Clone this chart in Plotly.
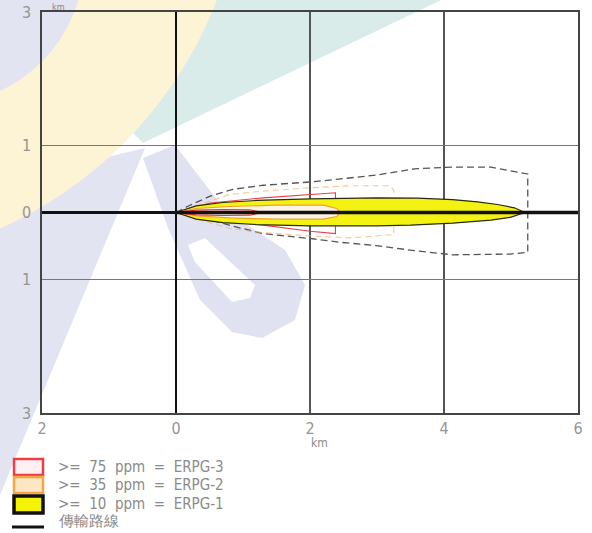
import plotly.graph_objects as go

# ---------------- data (km) ----------------
x_ticks = [-2, 0, 2, 4, 6]
x_ticktext = ["2", "0", "2", "4", "6"]
y_ticks = [-3, -1, 0, 1, 3]
y_ticktext = ["3", "1", "0", "1", "3"]

# plume centre line (downwind axis)
axis_x = [0, 6]
axis_y = [0, 0]

# ERPG-1 footprint (>= 10 ppm), yellow
erpg1_up_x = [0, 0.3, 0.7, 1.2, 2.0, 3.0, 3.6, 4.13, 4.5, 4.8, 5.05, 5.21]
erpg1_up_y = [0, 0.10, 0.15, 0.18, 0.205, 0.22, 0.215, 0.194, 0.16, 0.12, 0.07, 0]
erpg1_lo_x = [5.21, 5.0, 4.7, 4.13, 3.5, 3.0, 2.0, 1.2, 0.7, 0.3, 0]
erpg1_lo_y = [0, -0.07, -0.115, -0.16, -0.19, -0.20, -0.20, -0.18, -0.15, -0.10, 0]

# ERPG-2 footprint (>= 35 ppm), orange
erpg2_up_x = [0, 0.3, 0.8, 1.5, 2.2, 2.4, 2.45]
erpg2_up_y = [0, 0.06, 0.09, 0.11, 0.11, 0.06, 0]
erpg2_lo_x = [2.45, 2.4, 2.2, 1.5, 0.8, 0.3, 0]
erpg2_lo_y = [0, -0.06, -0.10, -0.10, -0.08, -0.05, 0]

# ERPG-3 footprint (>= 75 ppm), red
erpg3_up_x = [0, 0.3, 0.7, 1.1, 1.3]
erpg3_up_y = [0, 0.035, 0.045, 0.04, 0]
erpg3_lo_x = [1.3, 1.1, 0.7, 0.3, 0]
erpg3_lo_y = [0, -0.04, -0.045, -0.035, 0]

# confidence lines
conf1_x = [0, 0.17, 0.51, 0.85, 1.30, 2.04, 2.43, 2.99, 3.56, 4.13, 4.70, 5.09, 5.25,
           5.25, 4.98, 4.13, 3.56, 2.99, 2.43, 2.04, 1.30, 0.85, 0.51, 0.17, 0]
conf1_y = [0, 0.09, 0.245, 0.347, 0.408, 0.459, 0.50, 0.56, 0.653, 0.679, 0.679, 0.612, 0.577,
           -0.597, -0.622, -0.633, -0.571, -0.495, -0.444, -0.393, -0.316, -0.204, -0.112, -0.036, 0]
conf2_x = [0, 0.3, 0.8, 1.3, 2.0, 2.6, 3.2, 3.25, 3.25, 2.6, 2.0, 1.3, 0.8, 0.3, 0]
conf2_y = [0, 0.10, 0.27, 0.32, 0.37, 0.40, 0.40, 0.33, -0.33, -0.38, -0.35, -0.30, -0.24, -0.09, 0]
conf3_x = [0, 0.51, 1.30, 2.0, 2.38, 2.38, 2.0, 1.30, 0.51, 0]
conf3_y = [0, 0.143, 0.219, 0.27, 0.296, -0.316, -0.28, -0.189, -0.112, 0]

legend_labels = [">=  75  ppm  =  ERPG-3", ">=  35  ppm  =  ERPG-2",
                 ">=  10  ppm  =  ERPG-1", "傳輸路線"]

# ---------------- figure ----------------
W, H = 592, 533
L, R, T, B = 42, 14, 12, 120
PW, PH = W - L - R, H - T - B
FONT = "Liberation Sans Narrow, DejaVu Sans Condensed, Roboto Condensed, Liberation Sans, sans-serif"


def px(x):
    return (x - L) / PW


def py(y):
    return (H - B - y) / PH


fig = go.Figure()

fig.add_trace(go.Scatter(x=conf1_x, y=conf1_y, mode="lines",
                         line=dict(color="#555555", width=1.3, dash="7px,4px"),
                         showlegend=False, hoverinfo="skip"))
fig.add_trace(go.Scatter(x=conf2_x, y=conf2_y, mode="lines", opacity=0.7,
                         line=dict(color="#f5b070", width=1.1, dash="6px,4px"),
                         showlegend=False, hoverinfo="skip"))
fig.add_trace(go.Scatter(x=conf3_x, y=conf3_y, mode="lines",
                         line=dict(color="#e8404a", width=1.1),
                         showlegend=False, hoverinfo="skip"))
fig.add_trace(go.Scatter(x=erpg1_up_x + erpg1_lo_x, y=erpg1_up_y + erpg1_lo_y,
                         fill="toself", fillcolor="#f3f213", mode="lines",
                         line=dict(color="#2a2a10", width=1.2), showlegend=False))
fig.add_trace(go.Scatter(x=erpg2_up_x + erpg2_lo_x, y=erpg2_up_y + erpg2_lo_y,
                         fill="toself", fillcolor="#fff3e6", mode="lines",
                         line=dict(color="#f0a030", width=1.2), showlegend=False))
fig.add_trace(go.Scatter(x=erpg3_up_x + erpg3_lo_x, y=erpg3_up_y + erpg3_lo_y,
                         fill="toself", fillcolor="#fdecec", mode="lines",
                         line=dict(color="#ee3333", width=1.1), showlegend=False))
fig.add_trace(go.Scatter(x=axis_x, y=axis_y, mode="lines",
                         line=dict(color="#111111", width=3.5), showlegend=False))

shapes = []


# ---- faint watermark in the background ----
def poly(pts, color):
    d = "M " + " L ".join(f"{px(a):.4f},{py(b):.4f}" for a, b in pts) + " Z"
    return dict(type="path", path=d, xref="paper", yref="paper", layer="below",
                fillcolor=color, line=dict(width=0))


def circ(cx, cy, r, color):
    return dict(type="circle", xref="paper", yref="paper", layer="below",
                x0=px(cx - r), x1=px(cx + r), y0=py(cy + r), y1=py(cy - r),
                fillcolor=color, line=dict(width=0))


shapes.append(poly([(-10, 185), (145, 148), (0, 495), (-10, 495)], "#e2e4f2"))
shapes.append(poly([(150, -10), (462, -10), (143, 143), (60, 60)], "#d9ecea"))
shapes.append(circ(-170, -150, 415, "#fdf3d5"))
shapes.append(circ(-60, -40, 144, "#e2e4f2"))
shapes.append(poly([(143, 158), (175, 145), (225, 210), (285, 250), (305, 285), (295, 320),
                    (262, 338), (232, 332), (200, 300), (168, 228)], "#e0e2f1"))
shapes.append(poly([(188, 245), (205, 238), (255, 285), (250, 298), (232, 302), (195, 262)],
                   "#ffffff"))

# ---- legend swatches ----
sw = [("#f03c46", "#fff0f3", 459, 475, 2.5),
      ("#f5a742", "#fde6c6", 477, 493, 2.5),
      ("#111111", "#f4f400", 496, 513, 3.5)]
for lc, fc, y0, y1, lw in sw:
    shapes.append(dict(type="rect", xref="paper", yref="paper",
                       x0=px(14), x1=px(43), y0=py(y1), y1=py(y0),
                       line=dict(color=lc, width=lw), fillcolor=fc, layer="above"))
shapes.append(dict(type="line", xref="paper", yref="paper",
                   x0=px(12), x1=px(44), y0=py(527), y1=py(527),
                   line=dict(color="#111111", width=3), layer="above"))

annotations = []
for lab, yc in zip(legend_labels, [467, 485, 504, 521]):
    annotations.append(dict(text=lab.replace("  ", " \u00a0"), xref="paper", yref="paper",
                            x=px(56), y=py(yc), xanchor="left", yanchor="middle",
                            showarrow=False,
                            font=dict(family=FONT, size=15, color="#8a8a8a")))
annotations.append(dict(text="km", xref="paper", yref="paper", x=px(319), y=py(443),
                        xanchor="center", yanchor="middle", showarrow=False,
                        font=dict(family=FONT, size=12, color="#888")))
annotations.append(dict(text="km", xref="paper", yref="paper", x=px(58), y=py(0),
                        xanchor="center", yanchor="top", showarrow=False,
                        font=dict(family=FONT, size=9, color="#888")))

tickfont = dict(family=FONT, size=16, color="#959595")
fig.update_layout(
    width=W, height=H,
    margin=dict(l=L, r=R, t=T, b=B, pad=0, autoexpand=False),
    paper_bgcolor="white", plot_bgcolor="white",
    showlegend=False,
    shapes=shapes, annotations=annotations,
    xaxis=dict(range=[-2, 6], tickvals=x_ticks, ticktext=x_ticktext, tickfont=tickfont,
               showgrid=True, gridcolor="#555555", gridwidth=1.5,
               zeroline=True, zerolinecolor="#111111", zerolinewidth=2,
               showline=True, linecolor="#444444", linewidth=1.5, mirror=True,
               ticks="", ticklabelstandoff=0, automargin=False),
    yaxis=dict(range=[-3, 3], tickvals=y_ticks, ticktext=y_ticktext, tickfont=tickfont,
               showgrid=True, gridcolor="#777777", gridwidth=1,
               zeroline=True, zerolinecolor="#111111", zerolinewidth=3,
               showline=True, linecolor="#444444", linewidth=1.5, mirror=True,
               ticks="", ticklabelstandoff=6, automargin=False),
)

fig.write_html("out.html")
